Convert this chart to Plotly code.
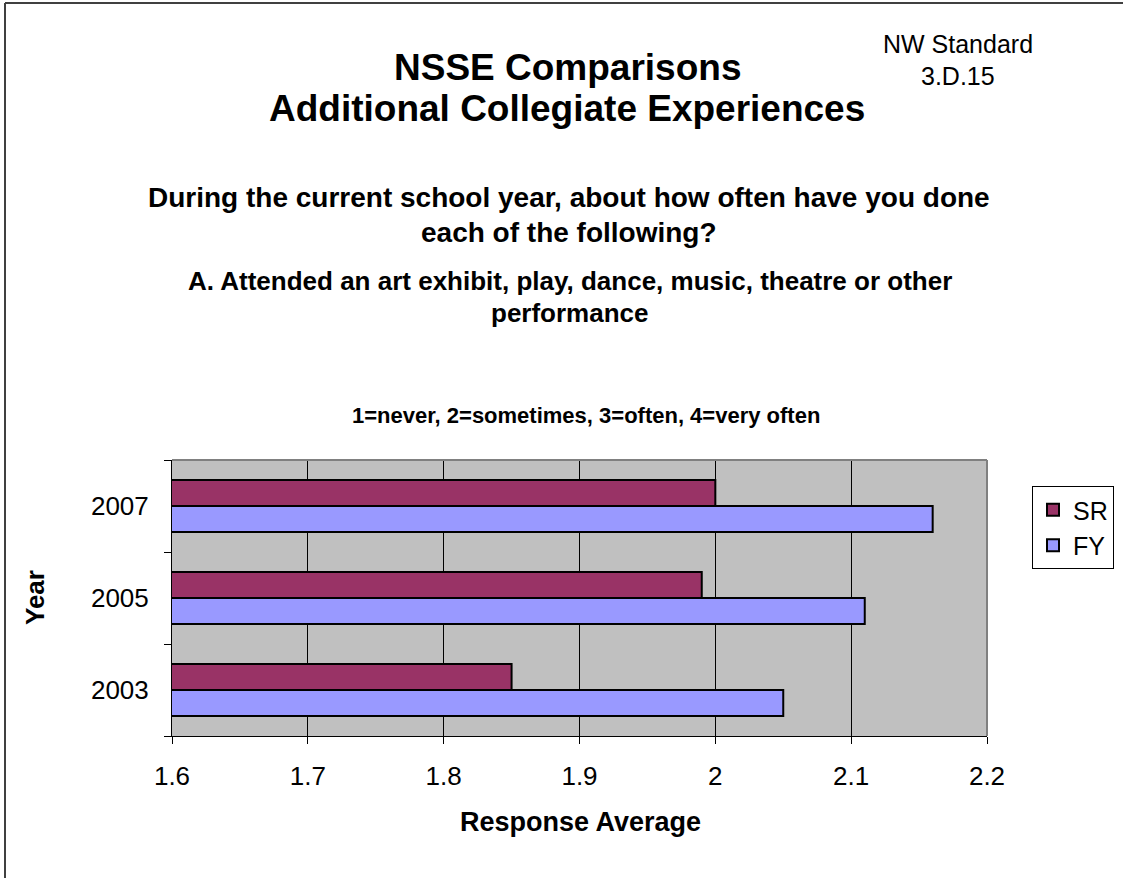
import plotly.graph_objects as go

years = ["2003", "2005", "2007"]
sr_values = [1.85, 1.99, 2.00]
fy_values = [2.05, 2.11, 2.16]
x_ticks = [1.6, 1.7, 1.8, 1.9, 2.0, 2.1, 2.2]
x_tick_labels = ["1.6", "1.7", "1.8", "1.9", "2", "2.1", "2.2"]

W, H = 1123, 878
L, R, T, B = 172, 987, 460, 736

def px(x):
    return (x - L) / (R - L)

def py(y):
    return (B - y) / (B - T)

FONT = "Liberation Sans, Arial, sans-serif"

fig = go.Figure()
fig.add_trace(go.Bar(
    y=years, x=fy_values, name="FY", orientation="h",
    marker=dict(color="#9999FF", line=dict(color="black", width=2)),
    legendrank=2,
))
fig.add_trace(go.Bar(
    y=years, x=sr_values, name="SR", orientation="h",
    marker=dict(color="#993366", line=dict(color="black", width=2)),
    legendrank=1,
))

fig.update_layout(
    width=W, height=H,
    margin=dict(l=L, r=W - R, t=T, b=H - B, autoexpand=False),
    paper_bgcolor="white",
    plot_bgcolor="#C0C0C0",
    barmode="group",
    bargap=0.435,
    bargroupgap=0,
    font=dict(family=FONT, color="black", size=26),
    showlegend=True,
    legend=dict(
        x=px(1032), y=py(486), xanchor="left", yanchor="top",
        bgcolor="white", bordercolor="black", borderwidth=1,
        font=dict(size=25, family=FONT),
        itemwidth=30, tracegroupgap=0,
    ),
    xaxis=dict(
        range=[1.6, 2.2], tickvals=x_ticks, ticktext=x_tick_labels,
        showgrid=True, gridcolor="black", gridwidth=1,
        showline=True, linecolor="black", linewidth=1,
        ticks="outside", ticklen=7, tickcolor="black",
        tickfont=dict(size=26), zeroline=False, ticklabelstandoff=10,
    ),
    yaxis=dict(
        categoryorder="array", categoryarray=years,
        showgrid=False, showline=True, linecolor="black", linewidth=1,
        ticks="outside", ticklen=7, tickcolor="black", tickson="boundaries",
        tickfont=dict(size=26), ticklabelstandoff=17,
    ),
)

# plot-area gray border (top and right)
fig.add_shape(type="line", xref="paper", yref="paper", x0=0, x1=1, y0=1, y1=1,
              line=dict(color="#808080", width=2))
fig.add_shape(type="line", xref="paper", yref="paper", x0=1, x1=1, y0=0, y1=1,
              line=dict(color="#808080", width=2))

# outer chart border (top and left visible)
fig.add_shape(type="line", xref="paper", yref="paper", x0=px(5), x1=px(1130), y0=py(3), y1=py(3),
              line=dict(color="#404040", width=2))
fig.add_shape(type="line", xref="paper", yref="paper", x0=px(5), x1=px(5), y0=py(3), y1=py(890),
              line=dict(color="#404040", width=2))

def ann(text, x, y, size, bold=False, angle=0):
    t = f"<b>{text}</b>" if bold else text
    fig.add_annotation(text=t, x=px(x), y=py(y), xref="paper", yref="paper",
                       showarrow=False, xanchor="center", yanchor="middle",
                       font=dict(size=size, family=FONT, color="black"), textangle=angle)

ann("NSSE Comparisons", 567, 67, 37, bold=True)
ann("Additional Collegiate Experiences", 567, 108, 37, bold=True)
ann("NW Standard", 958, 44, 25)
ann("3.D.15", 958, 76, 25)
ann("During the current school year, about how often have you done", 569, 197, 28, bold=True)
ann("each of the following?", 569, 232, 28, bold=True)
ann("A. Attended an art exhibit, play, dance, music, theatre or other", 570, 281, 26, bold=True)
ann("performance", 570, 313, 26, bold=True)
ann("1=never, 2=sometimes, 3=often, 4=very often", 586, 415, 22, bold=True)
ann("Response Average", 580, 822, 27, bold=True)
ann("Year", 35, 598, 26, bold=True, angle=-90)

fig.write_html("out.html", config={"displayModeBar": False},
               post_script="document.body.style.margin='0';")
